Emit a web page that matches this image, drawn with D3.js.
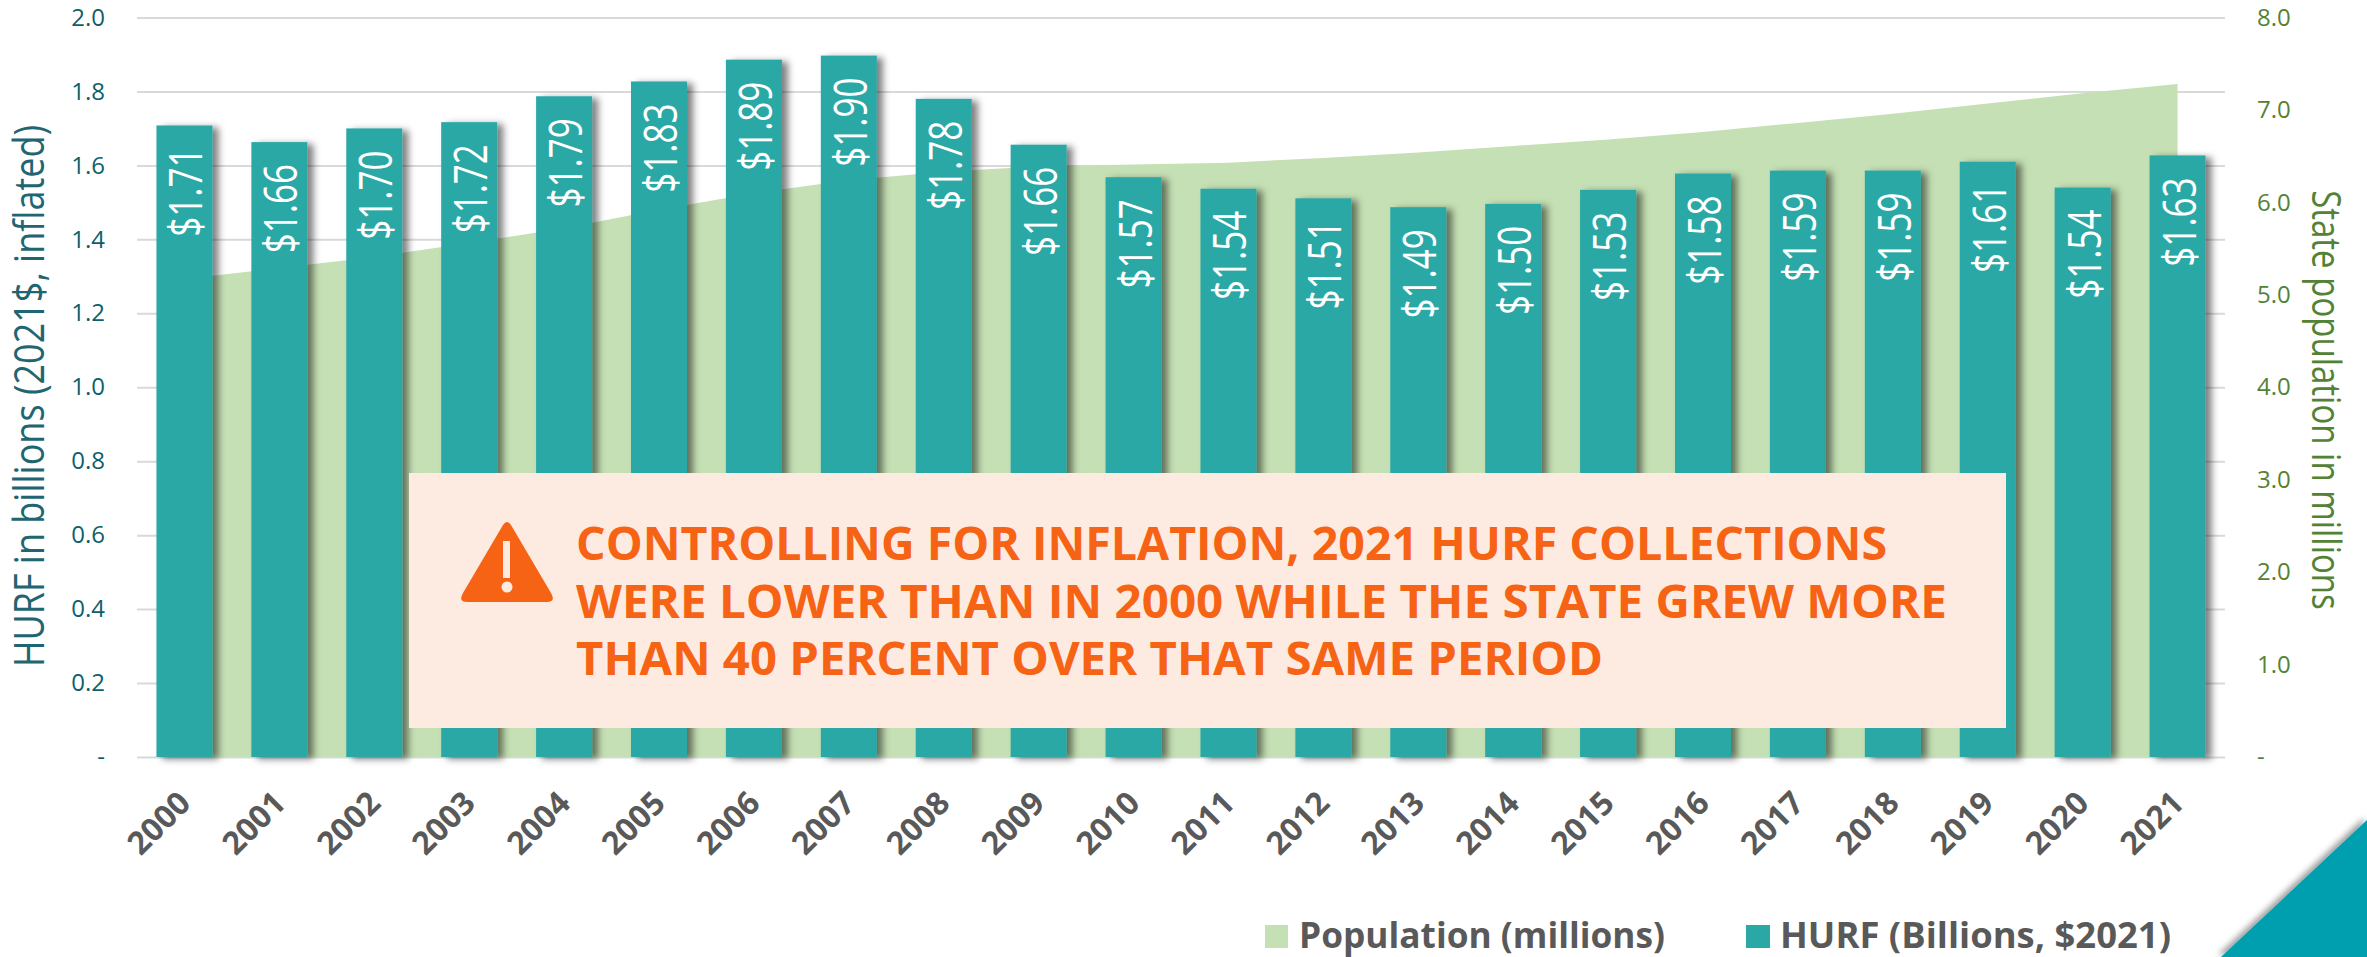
<!DOCTYPE html>
<html>
<head>
<meta charset="utf-8">
<script src="https://cdn.jsdelivr.net/npm/d3@7"></script>
<style>
	html, body { margin: 0; padding: 0; background: #fff; }
	svg { display: block; font-family: "Open Sans", sans-serif; }
	.axis path { display: none; }
	.axis line { display: none; }
	.grid path { display: none; }
	.grid line { stroke: #d9d9d9; stroke-width: 2; }
</style>
</head>
<body>
<svg id="vis" width="2367" height="957"></svg>
<script>
var years = ["2000","2001","2002","2003","2004","2005","2006","2007","2008","2009","2010","2011","2012","2013","2014","2015","2016","2017","2018","2019","2020","2021"];
var hurf = [1.708,1.663,1.70,1.717,1.787,1.827,1.886,1.897,1.78,1.656,1.568,1.537,1.511,1.487,1.496,1.534,1.578,1.586,1.586,1.61,1.54,1.627];
var population = [5.17,5.29,5.41,5.56,5.72,5.92,6.10,6.24,6.33,6.39,6.41,6.43,6.48,6.54,6.61,6.68,6.76,6.86,6.96,7.07,7.18,7.28];
var leftTicks = [0,0.2,0.4,0.6,0.8,1.0,1.2,1.4,1.6,1.8,2.0];
var rightTicks = [0,1,2,3,4,5,6,7,8];
var calloutLines = ["CONTROLLING FOR INFLATION, 2021 HURF COLLECTIONS","WERE LOWER THAN IN 2000 WHILE THE STATE GREW MORE","THAN 40 PERCENT OVER THAT SAME PERIOD"];

var vis = d3.select("#vis");
var margin = {top: 17.5, right: 142, bottom: 200, left: 137},
	width = 2367,
	height = 957;

var xScale = d3.scaleBand().domain(years).range([margin.left, width - margin.right]).paddingInner(0.41).paddingOuter(0.205);
var yLeft = d3.scaleLinear().domain([0, 2]).range([height - margin.bottom, margin.top]);
var yRight = d3.scaleLinear().domain([0, 8]).range([height - margin.bottom, margin.top]);
var cx = function(y) { return xScale(y) + xScale.bandwidth() / 2; };

// drop shadows
var defs = vis.append("defs");
defs.append("filter").attr("id", "barShadow").attr("x", "-20%").attr("y", "-5%").attr("width", "150%").attr("height", "115%")
	.append("feDropShadow").attr("dx", 6).attr("dy", 2).attr("stdDeviation", 3.5).attr("flood-color", "#000").attr("flood-opacity", 0.5);
defs.append("filter").attr("id", "cornerShadow").attr("x", "-20%").attr("y", "-20%").attr("width", "140%").attr("height", "140%")
	.append("feDropShadow").attr("dx", -3).attr("dy", -2).attr("stdDeviation", 3).attr("flood-color", "#000").attr("flood-opacity", 0.4);

// corner decoration
vis.append("path").attr("d", "M2221,957L2367,820L2367,957Z").attr("fill", "#009fb0").attr("filter", "url(#cornerShadow)");

// gridlines
vis.append("g").attr("class", "grid")
	.attr("transform", "translate(" + margin.left + ",0)")
	.call(d3.axisLeft(yLeft).tickValues(leftTicks).tickFormat("").tickSize(-(width - margin.left - margin.right)));

// population area
var area = d3.area()
	.x(function(d, i) { return cx(years[i]); })
	.y0(yRight(0))
	.y1(function(d) { return yRight(d); });
vis.append("path").attr("d", area(population)).attr("fill", "#c5e0b4");

// bars
vis.append("g").selectAll("rect")
	.data(hurf)
	.enter().append("rect")
	.attr("x", function(d, i) { return xScale(years[i]); })
	.attr("y", function(d) { return yLeft(d); })
	.attr("width", xScale.bandwidth())
	.attr("height", function(d) { return yLeft(0) - yLeft(d); })
	.attr("fill", "#2aa8a6")
	.attr("filter", "url(#barShadow)");

// bar labels, the reference glyphs are taller than they are long
vis.append("g").selectAll("text")
	.data(hurf)
	.enter().append("text")
	.attr("transform", function(d, i) { return "translate(" + (cx(years[i]) + 18) + "," + (yLeft(d) + 22) + ") rotate(-90) scale(1,1.3)"; })
	.attr("text-anchor", "end")
	.attr("fill", "#fff")
	.attr("font-size", 35)
	.text(function(d) { return "$" + d3.format(".2f")(d); });

// axes
var leftAxis = vis.append("g").attr("class", "axis")
	.attr("transform", "translate(113,0)")
	.call(d3.axisLeft(yLeft).tickValues(leftTicks).tickSize(0).tickPadding(8).tickFormat(function(d) { return d === 0 ? "-" : d3.format(".1f")(d); }));
leftAxis.selectAll("text").attr("fill", "#0f5f6a").attr("font-size", 24).attr("font-family", "Open Sans");

var rightAxis = vis.append("g").attr("class", "axis")
	.attr("transform", "translate(2249,0)")
	.call(d3.axisRight(yRight).tickValues(rightTicks).tickSize(0).tickPadding(8).tickFormat(function(d) { return d === 0 ? "-" : d3.format(".1f")(d); }));
rightAxis.selectAll("text").attr("fill", "#548235").attr("font-size", 24).attr("font-family", "Open Sans");

var bottomAxis = vis.append("g").attr("class", "axis")
	.attr("transform", "translate(0," + yLeft(0) + ")")
	.call(d3.axisBottom(xScale).tickSize(0).tickPadding(0));
bottomAxis.selectAll("text")
	.attr("transform", "translate(-8,32) rotate(-45)")
	.attr("text-anchor", "end")
	.attr("fill", "#595959")
	.attr("font-size", 32)
	.attr("font-weight", 700)
	.attr("font-family", "Open Sans");

// axis titles
vis.append("text").attr("transform", "translate(44,396) rotate(-90) scale(1,1.15)")
	.attr("text-anchor", "middle").attr("fill", "#1f6672").attr("font-size", 36)
	.text("HURF in billions (2021$, inflated)");
vis.append("text").attr("transform", "translate(2312,400) rotate(90) scale(1,1.2)")
	.attr("text-anchor", "middle").attr("fill", "#548235").attr("font-size", 33)
	.text("State population in millions");

// callout
vis.append("rect").attr("x", 409).attr("y", 473).attr("width", 1597).attr("height", 255).attr("fill", "#fdebe1");
vis.append("path")
	.attr("d", "M503,525Q507,519 511,525L551,593Q556,602 547,602L467,602Q458,602 463,593Z")
	.attr("fill", "#f66314");
vis.append("rect").attr("x", 503).attr("y", 541).attr("width", 7).attr("height", 37).attr("fill", "#fdebe1");
vis.append("ellipse").attr("cx", 507).attr("cy", 587).attr("rx", 5.5).attr("ry", 5.5).attr("fill", "#fdebe1");
var lineWidths = [1311, 1371, 1027];
vis.append("g").selectAll("text")
	.data(calloutLines)
	.enter().append("text")
	.attr("x", 576)
	.attr("y", function(d, i) { return 560 + i * 57.5; })
	.attr("fill", "#f66314")
	.attr("font-size", 47)
	.attr("font-weight", 700)
	.attr("textLength", function(d, i) { return lineWidths[i]; })
	.attr("lengthAdjust", "spacingAndGlyphs")
	.text(function(d) { return d; });

// legend
vis.append("rect").attr("x", 1265).attr("y", 925).attr("width", 23).attr("height", 23).attr("fill", "#c5e0b4");
vis.append("text").attr("x", 1299).attr("y", 948).attr("fill", "#595959").attr("font-size", 35).attr("font-weight", 700)
	.attr("textLength", 366).attr("lengthAdjust", "spacingAndGlyphs").text("Population (millions)");
vis.append("rect").attr("x", 1746).attr("y", 925).attr("width", 24).attr("height", 23).attr("fill", "#2aa8a6");
vis.append("text").attr("x", 1780).attr("y", 948).attr("fill", "#595959").attr("font-size", 35).attr("font-weight", 700)
	.attr("textLength", 391).attr("lengthAdjust", "spacingAndGlyphs").text("HURF (Billions, $2021)");
</script>
</body>
</html>
